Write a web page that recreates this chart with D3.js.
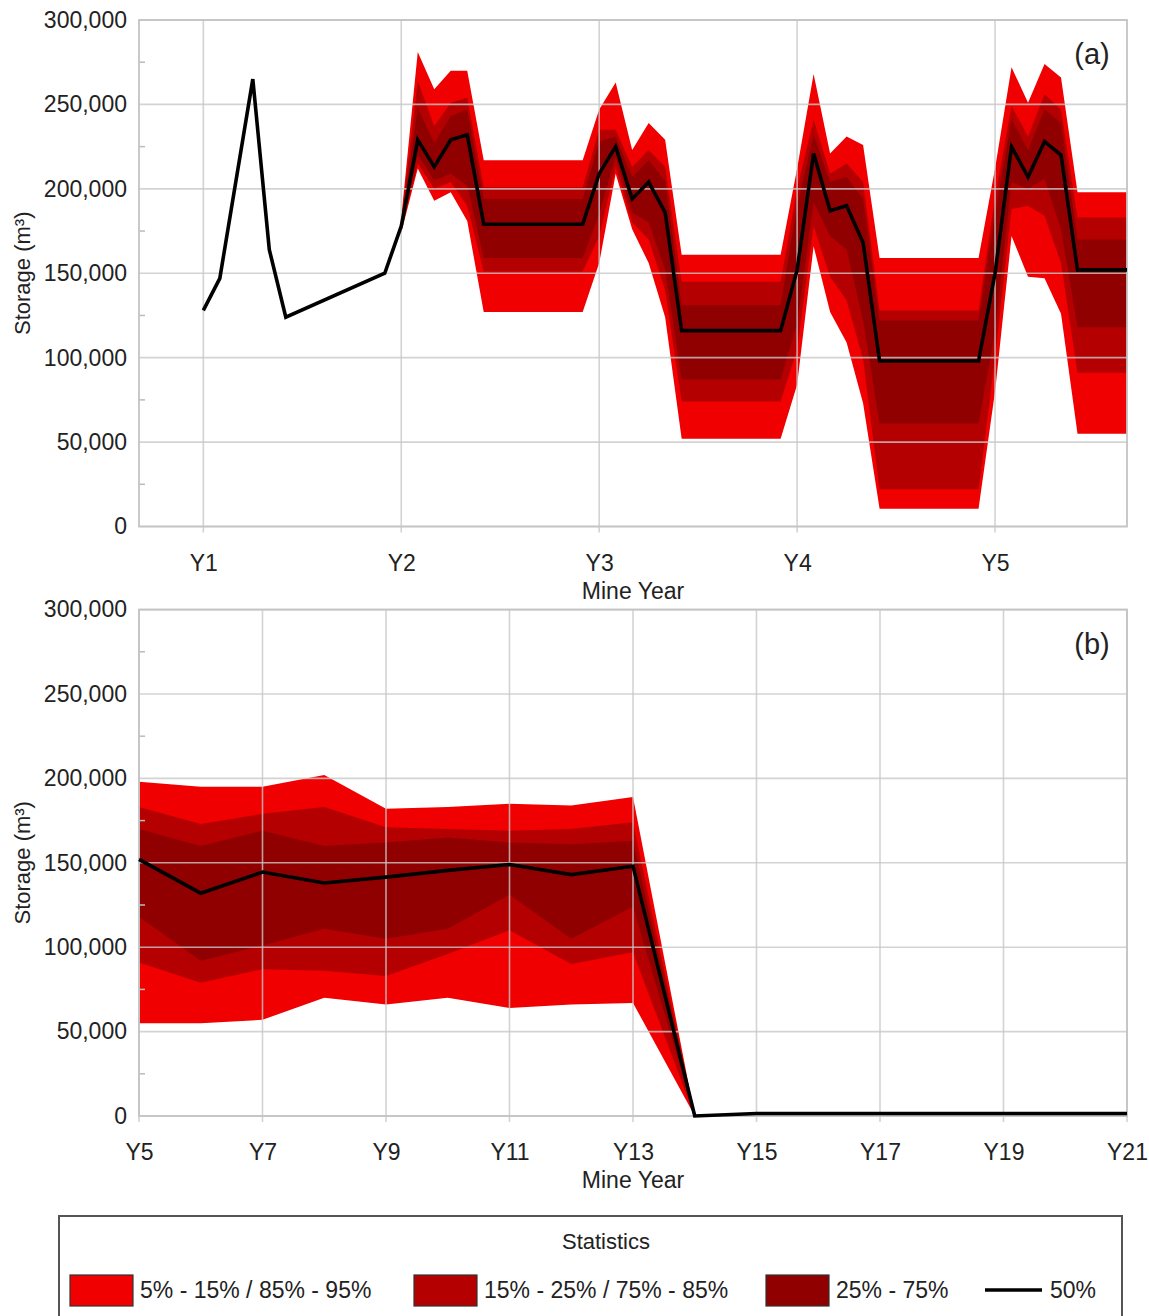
<!DOCTYPE html>
<html>
<head>
<meta charset="utf-8">
<script src="https://d3js.org/d3.v7.min.js"></script>
<style>
  body { margin: 0; background: #fff; }
  text { font-family: "Liberation Sans", Arial, sans-serif; }
</style>
</head>
<body>
<div id="my_dataviz"></div>
<script>
// ---------------- data ----------------
// panel (a): x in months from start of Y1 (Y1 = 0, Y2 = 12, ...)
var leadMonths = [0, 1, 3, 4, 5, 11];
var leadMedian = [128000, 147000, 265000, 164000, 124000, 150000];

var monthsA = [12, 13, 14, 15, 16, 17, 23, 24, 25, 26, 27, 28, 29, 35, 36, 37, 38, 39, 40, 41, 47, 48, 49, 50, 51, 52, 53, 56];
var p05A = [174000, 212000, 193000, 198000, 181000, 127000, 127000, 156000, 209000, 176000, 156000, 124000, 52000, 52000, 84000, 166000, 127000, 109000, 73000, 10500, 10500, 80000, 172000, 148000, 147000, 126000, 55000, 55000];
var p15A = [176000, 215000, 200000, 204000, 190000, 151000, 151000, 172000, 213000, 180000, 170000, 140000, 74000, 74000, 105000, 178000, 148000, 134000, 99000, 22000, 22000, 100000, 188000, 190000, 184000, 156000, 91000, 91000];
var p25A = [177000, 220000, 205000, 209000, 202000, 159000, 159000, 185000, 219000, 186000, 180000, 152000, 87000, 87000, 120000, 192000, 172000, 164000, 122000, 61000, 61000, 115000, 204000, 200000, 206000, 176000, 118000, 118000];
var p50A = [178000, 229000, 213000, 229000, 232000, 179000, 179000, 209000, 225000, 194000, 204000, 186000, 116000, 116000, 152000, 221000, 187000, 190000, 168000, 98000, 98000, 150000, 225000, 207000, 228000, 220000, 152000, 152000];
var p75A = [179000, 248000, 227000, 243000, 247000, 194000, 194000, 228000, 231000, 207000, 217000, 205000, 131000, 131000, 190000, 232000, 204000, 207000, 194000, 122000, 122000, 185000, 241000, 223000, 247000, 239000, 170000, 170000];
var p85A = [181000, 264000, 237000, 251000, 254000, 201000, 201000, 235000, 235000, 213000, 223000, 213000, 145000, 145000, 200000, 241000, 209000, 215000, 204000, 128000, 128000, 195000, 249000, 231000, 256000, 247000, 183000, 183000];
var p95A = [183000, 281000, 259000, 270000, 270000, 217000, 217000, 247000, 263000, 223000, 239000, 229000, 161000, 161000, 212000, 268000, 221000, 231000, 226000, 159000, 159000, 212000, 272000, 251000, 274000, 266000, 198000, 198000];

// panel (b): x in mine years
var yearsB = [5, 6, 7, 8, 9, 10, 11, 12, 13, 14, 15, 21];
var p05B = [55000, 55000, 57000, 70000, 66000, 70000, 64000, 66000, 67000, 0, 1500, 1500];
var p15B = [91000, 79000, 87000, 86000, 83000, 96000, 110000, 90000, 97000, 0, 1500, 1500];
var p25B = [118000, 92000, 101000, 111000, 105000, 111000, 131000, 105000, 124000, 0, 1500, 1500];
var p50B = [152000, 132000, 144500, 138000, 141500, 145500, 149000, 143000, 148000, 0, 1500, 1500];
var p75B = [170000, 160000, 169000, 160000, 162000, 165000, 162000, 161000, 163000, 0, 1500, 1500];
var p85B = [183000, 173000, 179000, 183000, 171000, 170000, 169000, 170000, 174000, 0, 1500, 1500];
var p95B = [198000, 195000, 195000, 202000, 182000, 183000, 185000, 184000, 189000, 0, 1500, 1500];

var yTicks = [0, 50000, 100000, 150000, 200000, 250000, 300000];
var yMinor = [25000, 75000, 125000, 175000, 225000, 275000];
var xTicksA = [0, 12, 24, 36, 48];
var xTicksB = [5, 7, 9, 11, 13, 15, 17, 19, 21];

var legendItems = ["5% - 15% / 85% - 95%", "15% - 25% / 75% - 85%", "25% - 75%"];
var bandColors = ["#f00000", "#b40000", "#910000"];

// ---------------- layout ----------------
var width = 1149, height = 1316;
var plotLeft = 139, plotRight = 1127;

var svg = d3.select("#my_dataviz")
  .append("svg")
    .attr("width", width)
    .attr("height", height);

svg.append("rect").attr("width", width).attr("height", height).attr("fill", "#fff");

function buildRows(xs, a, b, c, d, e, f, g) {
  return xs.map(function(t, i) {
    return {t: t, p05: a[i], p15: b[i], p25: c[i], p50: d[i], p75: e[i], p85: f[i], p95: g[i]};
  });
}

function drawPanel(top, bottom, x, xTicks, xFormat, rows, lineRows, tag) {
  var y = d3.scaleLinear().domain([0, 300000]).range([bottom, top]);
  var g = svg.append("g");

  // percentile bands
  var pairs = [["p05", "p95"], ["p15", "p85"], ["p25", "p75"]];
  pairs.forEach(function(p, i) {
    g.append("path")
      .datum(rows)
      .attr("fill", bandColors[i])
      .attr("d", d3.area()
        .x(function(d) { return x(d.t); })
        .y0(function(d) { return y(d[p[0]]); })
        .y1(function(d) { return y(d[p[1]]); }));
  });

  // grid lines (drawn over the bands, like the original)
  g.append("g").selectAll("line")
    .data(yTicks)
    .enter().append("line")
      .attr("x1", plotLeft).attr("x2", plotRight)
      .attr("y1", function(d) { return y(d); })
      .attr("y2", function(d) { return y(d); })
      .attr("stroke", "#c8c8c8").attr("stroke-opacity", 0.8).attr("stroke-width", 1.6);

  g.append("g").selectAll("line")
    .data(xTicks)
    .enter().append("line")
      .attr("x1", function(d) { return x(d); })
      .attr("x2", function(d) { return x(d); })
      .attr("y1", top).attr("y2", bottom + 6)
      .attr("stroke", "#c8c8c8").attr("stroke-opacity", 0.8).attr("stroke-width", 1.6);

  // minor ticks on the left edge
  g.append("g").selectAll("line")
    .data(yMinor)
    .enter().append("line")
      .attr("x1", plotLeft).attr("x2", plotLeft + 6)
      .attr("y1", function(d) { return y(d); })
      .attr("y2", function(d) { return y(d); })
      .attr("stroke", "#bbb").attr("stroke-width", 1.5);

  // frame
  g.append("rect")
    .attr("x", plotLeft).attr("y", top)
    .attr("width", plotRight - plotLeft).attr("height", bottom - top)
    .attr("fill", "none").attr("stroke", "#c4c4c4").attr("stroke-width", 1.8);

  // median line
  g.append("path")
    .datum(lineRows)
    .attr("fill", "none")
    .attr("stroke", "#000")
    .attr("stroke-width", 3.6)
    .attr("stroke-linejoin", "miter")
    .attr("d", d3.line()
      .x(function(d) { return x(d.t); })
      .y(function(d) { return y(d.v); }));

  // Y axis labels
  g.append("g")
    .attr("transform", "translate(" + plotLeft + ",0)")
    .attr("color", "#222")
    .call(d3.axisLeft(y).tickValues(yTicks).tickFormat(d3.format(",")).tickSize(0).tickPadding(12))
    .call(function(a) { a.select(".domain").remove(); })
    .attr("font-size", 23)
    .attr("font-family", "Liberation Sans, Arial, sans-serif");

  // X axis labels
  g.append("g")
    .attr("transform", "translate(0," + bottom + ")")
    .attr("color", "#222")
    .call(d3.axisBottom(x).tickValues(xTicks).tickFormat(xFormat).tickSize(0).tickPadding(28))
    .call(function(a) { a.select(".domain").remove(); })
    .attr("font-size", 23)
    .attr("font-family", "Liberation Sans, Arial, sans-serif");

  g.append("text")
    .attr("x", (plotLeft + plotRight) / 2)
    .attr("y", bottom + 72)
    .attr("text-anchor", "middle")
    .attr("font-size", 23)
    .attr("fill", "#222")
    .text("Mine Year");

  g.append("text")
    .attr("transform", "translate(30," + (top + bottom) / 2 + ") rotate(-90)")
    .attr("text-anchor", "middle")
    .attr("font-size", 22)
    .attr("fill", "#222")
    .text("Storage (m³)");

  g.append("text")
    .attr("x", 1092).attr("y", top + 44)
    .attr("text-anchor", "middle")
    .attr("font-size", 29)
    .attr("fill", "#222")
    .text(tag);
}

// panel (a)
var xA = d3.scaleLinear().domain([-3.9, 56]).range([plotLeft, plotRight]);
var rowsA = buildRows(monthsA, p05A, p15A, p25A, p50A, p75A, p85A, p95A);
var lineA = leadMonths.map(function(m, i) { return {t: m, v: leadMedian[i]}; })
  .concat(monthsA.map(function(m, i) { return {t: m, v: p50A[i]}; }));
drawPanel(20, 526.5, xA, xTicksA, function(m) { return "Y" + (m / 12 + 1); }, rowsA, lineA, "(a)");

// panel (b)
var xB = d3.scaleLinear().domain([5, 21]).range([plotLeft, plotRight]);
var rowsB = buildRows(yearsB, p05B, p15B, p25B, p50B, p75B, p85B, p95B);
var lineB = yearsB.map(function(t, i) { return {t: t, v: p50B[i]}; });
drawPanel(609.6, 1116, xB, xTicksB, function(t) { return "Y" + t; }, rowsB, lineB, "(b)");

// ---------------- legend ----------------
var lg = svg.append("g");
lg.append("rect")
  .attr("x", 59).attr("y", 1216)
  .attr("width", 1063).attr("height", 140)
  .attr("fill", "#fff").attr("stroke", "#555").attr("stroke-width", 2);

lg.append("text")
  .attr("x", 606).attr("y", 1249)
  .attr("text-anchor", "middle")
  .attr("font-size", 22)
  .attr("fill", "#222")
  .text("Statistics");

var swatchX = [70, 414, 766];
legendItems.forEach(function(label, i) {
  lg.append("rect")
    .attr("x", swatchX[i]).attr("y", 1275)
    .attr("width", 63).attr("height", 31)
    .attr("fill", bandColors[i])
    .attr("stroke", "#333").attr("stroke-width", 1.2);
  lg.append("text")
    .attr("x", swatchX[i] + 70).attr("y", 1298)
    .attr("font-size", 23)
    .attr("fill", "#222")
    .text(label);
});

lg.append("line")
  .attr("x1", 985).attr("x2", 1042)
  .attr("y1", 1290).attr("y2", 1290)
  .attr("stroke", "#000").attr("stroke-width", 3.6);
lg.append("text")
  .attr("x", 1050).attr("y", 1298)
  .attr("font-size", 23)
  .attr("fill", "#222")
  .text("50%");
</script>
</body>
</html>
